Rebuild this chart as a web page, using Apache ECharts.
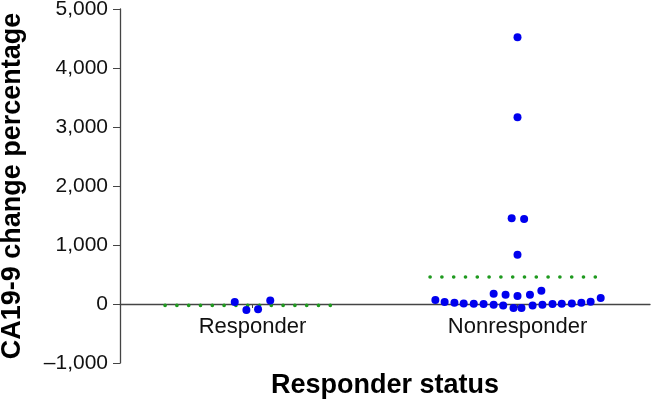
<!DOCTYPE html>
<html>
<head>
<meta charset="utf-8">
<script src="https://cdn.jsdelivr.net/npm/echarts@6/dist/echarts.min.js"></script>
<style>
    html, body { margin: 0; padding: 0; background: #fff; }
    #chart { width: 651px; height: 407px; }
</style>
</head>
<body>
<div id="chart"></div>
<script>
// categories
const categories = ['Responder', 'Nonresponder'];

// CA19-9 change (%) per patient, with swarm offsets (fraction of category width)
const responderValues = [34, -102, -91, 61];
const responderOffsets = [-0.067, -0.023, 0.021, 0.067];

const nonresponderValues = [
    68, 34, 22, 10, 5, 0, -12, -24, -68, -68, -24, -12, 0, 5, 10, 22, 39, 102,
    175, 158, 136, 158, 226,
    4520, 3165, 1455, 1440, 835
];
const nonresponderOffsets = [
    -0.310, -0.275, -0.238, -0.203, -0.165, -0.128, -0.090, -0.054, -0.015,
    0.015, 0.057, 0.094, 0.132, 0.167, 0.205, 0.241, 0.276, 0.314,
    -0.090, -0.045, 0, 0.047, 0.090,
    0, 0, -0.022, 0.025, 0
];

// medians
const medians = [-24, 457];

// y ticks
const yMin = -1000;
const yMax = 5000;
const yStep = 1000;

const font = 'Liberation Sans, Arial, sans-serif';

// grid 尺寸
const gridTop = 9;
const gridBottom = 44;
const plotHeight = 407 - gridTop - gridBottom;
// x 轴放在 y=0 处：从底边往上移动的像素
const zeroShift = plotHeight * (0 - yMin) / (yMax - yMin);

// 组装散点数据
function toPoints(catIndex, values, offsets) {
    return values.map((v, i) => [catIndex + offsets[i], v]);
}

// 中位数虚线
function medianLine(catIndex) {
    return [[catIndex - 0.33, medians[catIndex]], [catIndex + 0.30, medians[catIndex]]];
}

function fmt(v) {
    const s = Math.abs(v).toLocaleString('en-US');
    return v < 0 ? '\u2013' + s : s;
}

const chart = echarts.init(document.getElementById('chart'));

const dotStyle = { color: '#0000ee', opacity: 1 };
const medianStyle = { color: '#1f9a1f', width: 3.6, type: [0.1, 11.7], cap: 'round' };

let option = {
    animation: false,
    grid: { left: 120, right: 1, top: gridTop, bottom: gridBottom, outerBoundsMode: 'none', containLabel: false },
    xAxis: [
        {
            type: 'category',
            data: categories,
            boundaryGap: true,
            position: 'bottom',
            offset: -zeroShift,
            axisLine: { onZero: false, lineStyle: { color: '#444', width: 1.3 } },
            axisTick: { show: true, alignWithLabel: true, length: 4, lineStyle: { color: '#444' } },
            axisLabel: { color: '#111', fontFamily: font, fontSize: 22, margin: 12 },
            name: 'Responder status',
            nameLocation: 'middle',
            nameGap: 68,
            nameTextStyle: { color: '#000', fontFamily: font, fontSize: 27, fontWeight: 'bold' }
        },
        {
            type: 'value',
            min: -0.5,
            max: 1.5,
            show: false
        }
    ],
    yAxis: {
        type: 'value',
        min: yMin,
        max: yMax,
        interval: yStep,
        axisLine: { show: true, onZero: false, lineStyle: { color: '#444', width: 1.3 } },
        axisTick: { show: true, length: 7, lineStyle: { color: '#444' } },
        splitLine: { show: false },
        axisLabel: { color: '#111', fontFamily: font, fontSize: 21, margin: 12, formatter: fmt },
        name: 'CA19-9 change percentage',
        nameLocation: 'middle',
        nameGap: 94,
        nameTextStyle: { color: '#000', fontFamily: font, fontSize: 27, fontWeight: 'bold' }
    },
    series: [
        {
            type: 'line',
            xAxisIndex: 1,
            data: medianLine(0),
            symbol: 'none',
            lineStyle: medianStyle,
            z: 1
        },
        {
            type: 'line',
            xAxisIndex: 1,
            data: medianLine(1),
            symbol: 'none',
            lineStyle: medianStyle,
            z: 1
        },
        {
            type: 'scatter',
            xAxisIndex: 1,
            data: toPoints(0, responderValues, responderOffsets),
            symbolSize: 8,
            itemStyle: dotStyle,
            z: 3
        },
        {
            type: 'scatter',
            xAxisIndex: 1,
            data: toPoints(1, nonresponderValues, nonresponderOffsets),
            symbolSize: 8,
            itemStyle: dotStyle,
            z: 3
        }
    ]
};

chart.setOption(option);
</script>
</body>
</html>
